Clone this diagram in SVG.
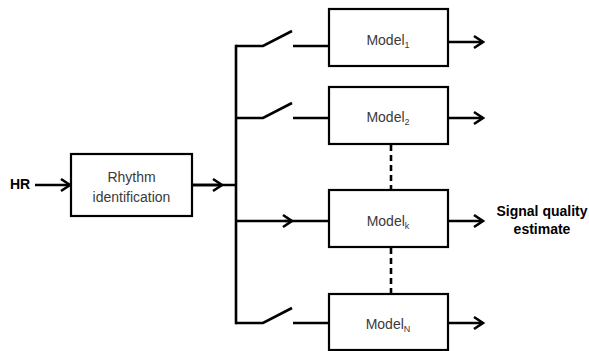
<svg xmlns="http://www.w3.org/2000/svg" width="589" height="351" viewBox="0 0 589 351">
<defs>
<marker id="arr" markerUnits="userSpaceOnUse" markerWidth="14" markerHeight="16" refX="11" refY="7" orient="auto" viewBox="0 0 14 14">
<path d="M2,1 L11,7 L2,13" fill="none" stroke="#000" stroke-width="2.6"/>
</marker>
</defs>
<style>
.box{fill:#fff;stroke:#000;stroke-width:2.2}
.ln{fill:none;stroke:#000;stroke-width:2.6}
.dash{fill:none;stroke:#000;stroke-width:2.6;stroke-dasharray:6,4}
.t{font-family:"Liberation Sans",Arial,sans-serif;font-size:14px;fill:#3a3a3a;text-anchor:middle}
.b{font-family:"Liberation Sans",Arial,sans-serif;font-size:14px;font-weight:bold;fill:#000;text-anchor:middle}
.s{font-size:9px}
</style>
<g id="connectors">
<line class="ln" x1="35" y1="185" x2="70" y2="185" marker-end="url(#arr)"/>
<line class="ln" x1="192" y1="185" x2="222" y2="185" marker-end="url(#arr)"/>
<line class="ln" x1="192" y1="185" x2="236" y2="185"/>
<line class="ln" x1="236" y1="44.7" x2="236" y2="324.3"/>
<polyline class="ln" points="236,46 263,46 292,31"/>
<line class="ln" x1="293" y1="46" x2="329" y2="46"/>
<polyline class="ln" points="236,118 263,118 292,103"/>
<line class="ln" x1="293" y1="118" x2="329" y2="118"/>
<line class="ln" x1="236" y1="221" x2="292" y2="221" marker-end="url(#arr)"/>
<line class="ln" x1="285" y1="221" x2="329" y2="221"/>
<polyline class="ln" points="236,323 263,323 292,308"/>
<line class="ln" x1="293" y1="323" x2="329" y2="323"/>
<line class="dash" x1="391" y1="145" x2="391" y2="190"/>
<line class="dash" x1="391" y1="248" x2="391" y2="294"/>
<line class="ln" x1="448" y1="42" x2="483" y2="42" marker-end="url(#arr)"/>
<line class="ln" x1="448" y1="118" x2="483" y2="118" marker-end="url(#arr)"/>
<line class="ln" x1="448" y1="221" x2="483" y2="221" marker-end="url(#arr)"/>
<line class="ln" x1="448" y1="323" x2="483" y2="323" marker-end="url(#arr)"/>
</g>
<g id="hr"><text class="b" x="20" y="189">HR</text></g>
<g id="rhythm">
<rect class="box" x="71" y="154" width="121" height="62"/>
<text class="t" x="131.5" y="182" font-size="15">Rhythm</text>
<text class="t" x="131.5" y="202" font-size="15">identification</text>
</g>
<g id="model1">
<rect class="box" x="329" y="9" width="119" height="57"/>
<text class="t" x="388" y="45">Model<tspan class="s" dy="3">1</tspan></text>
</g>
<g id="model2">
<rect class="box" x="329" y="87" width="119" height="57"/>
<text class="t" x="388" y="122">Model<tspan class="s" dy="3">2</tspan></text>
</g>
<g id="modelk">
<rect class="box" x="329" y="190" width="119" height="57"/>
<text class="t" x="388" y="226">Model<tspan class="s" dy="3">k</tspan></text>
</g>
<g id="modelN">
<rect class="box" x="329" y="294" width="119" height="56"/>
<text class="t" x="388" y="329">Model<tspan class="s" dy="3">N</tspan></text>
</g>
<g id="output">
<text class="b" x="542" y="216">Signal quality</text>
<text class="b" x="542" y="234">estimate</text>
</g>
</svg>
